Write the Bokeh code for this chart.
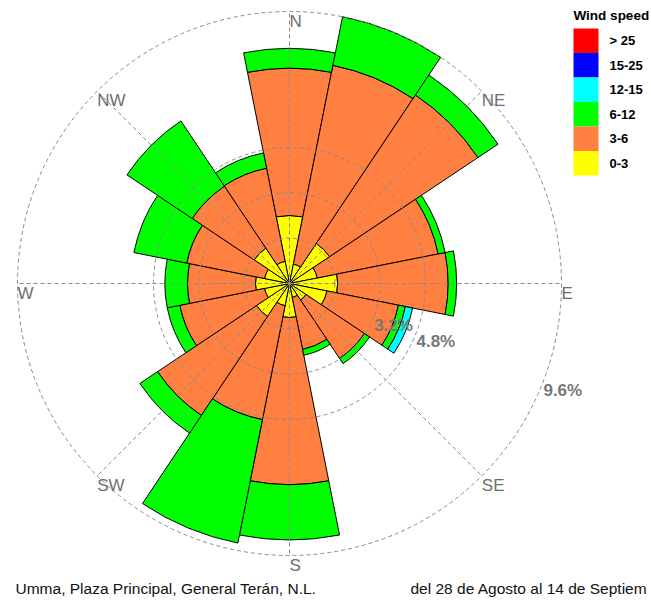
import numpy as np
from bokeh.plotting import figure
from bokeh.models import Range1d, Label, ColumnDataSource
from bokeh.core.properties import value
from bokeh.embed import file_html
from bokeh.resources import INLINE

# ---------------- data ----------------
directions = ["N", "NNE", "NE", "ENE", "E", "ESE", "SE", "SSE",
              "S", "SSW", "SW", "WSW", "W", "WNW", "NW", "NNW"]
direction_deg = [0, 22.5, 45, 67.5, 90, 112.5, 135, 157.5,
                 180, 202.5, 225, 247.5, 270, 292.5, 315, 337.5]

speed_bins = ["0-3", "3-6", "6-12", "12-15", "15-25", "> 25"]
bin_colors = ["#FFFF00", "#FF8040", "#00FF00", "#00FFFF", "#0000FF", "#FF0000"]

# frequency (%) per direction for each wind speed class
freq_0_3 = [2.4, 0.7, 1.7, 1.0, 1.7, 1.35, 0.7, 0.5,
            1.2, 0.8, 1.4, 0.9, 1.2, 0.9, 1.5, 0.8]
freq_3_6 = [5.2, 7.15, 6.3, 4.35, 3.9, 2.57, 2.48, 1.87,
            5.9, 4.1, 4.2, 3.05, 2.4, 2.8, 2.63, 3.35]
freq_6_12 = [0.7, 1.75, 0.85, 0.25, 0.3, 0.25, 0.22, 0.21,
             1.95, 4.44, 0.75, 0.45, 0.8, 1.9, 2.77, 0.55]
freq_12_15 = [0, 0, 0, 0, 0, 0.26, 0, 0,
              0, 0, 0, 0, 0, 0, 0, 0]
freq_15_25 = [0] * 16
freq_25 = [0] * 16

ring_values = [1.6, 3.2, 4.8, 9.6]
ring_label_values = [3.2, 4.8, 9.6]
ring_label_texts = ["3.2%", "4.8%", "9.6%"]
ring_label_deg = 111

compass_labels = ["N", "NE", "E", "SE", "S", "SW", "W", "NW"]
compass_deg = [0, 45, 90, 135, 180, 225, 270, 315]

legend_title = "Wind speed"
station_text = "Umma, Plaza Principal, General Terán, N.L."
period_text = "del 28 de Agosto al 14 de Septiem"

# ---------------- layout ----------------
W, H = 650, 600
CX, CY = 289, 283          # centre of the rose in canvas pixels
R_OUT = max(ring_values)
K = 272 / R_OUT            # pixels per percent


def dx(px):
    return (px - CX) / K


def dy(py):
    return (CY - py) / K


p = figure(width=W, height=H, output_backend="svg", toolbar_location=None,
           x_range=Range1d(dx(0), dx(W)), y_range=Range1d(dy(H), dy(0)),
           min_border=0)
p.axis.visible = False
p.grid.visible = False
p.outline_line_color = None
p.background_fill_color = "white"

theta = np.deg2rad(direction_deg)
half = np.deg2rad(11.25)
start = np.pi / 2 - theta - half
end = np.pi / 2 - theta + half

series = [freq_0_3, freq_3_6, freq_6_12, freq_12_15, freq_15_25, freq_25]
cum = np.zeros(16)
for vals, col in zip(series, bin_colors):
    vals = np.array(vals, dtype=float)
    inner = cum.copy()
    outer = cum + vals
    m = vals > 0
    if m.any():
        src = ColumnDataSource(dict(inner=inner[m], outer=outer[m],
                                    start=start[m], end=end[m]))
        p.annular_wedge(x=0, y=0, inner_radius="inner", outer_radius="outer",
                        start_angle="start", end_angle="end", source=src,
                        fill_color=col, line_color="black", line_width=1)
    cum = outer

# grid: dashed rings and radial lines, drawn over the bars
grid_col = "#8a8a8a"
p.circle(x=[0] * len(ring_values), y=[0] * len(ring_values), radius=ring_values,
         fill_color=None, line_color=grid_col, line_dash="4 3", line_width=1)
cd = np.deg2rad(compass_deg)
p.segment(x0=[0] * 8, y0=[0] * 8, x1=R_OUT * np.sin(cd), y1=R_OUT * np.cos(cd),
          line_color=grid_col, line_dash="4 3", line_width=1)

# direction labels
p.text(x=R_OUT * np.sin(cd), y=R_OUT * np.cos(cd), text=compass_labels,
       text_font=value("Liberation Sans"), text_font_size="17px",
       text_color="#6e6e6e", text_align="left", text_baseline="top")

# ring labels
rl = np.deg2rad(ring_label_deg)
rv = np.array(ring_label_values)
p.text(x=rv * np.sin(rl), y=rv * np.cos(rl), text=ring_label_texts,
       text_font=value("Liberation Sans"), text_font_size="17px",
       text_font_style="bold", text_color="#777777",
       text_align="left", text_baseline="top")

# legend (drawn manually: colour boxes + bold labels)
LEG_X0, LEG_X1, LEG_TOP, LEG_H = 573, 598, 28, 24.5
leg_labels = list(reversed(speed_bins))
leg_colors = list(reversed(bin_colors))
n = len(leg_labels)
tops = np.array([LEG_TOP + i * LEG_H for i in range(n)])
p.quad(left=[dx(LEG_X0)] * n, right=[dx(LEG_X1)] * n,
       top=[dy(t) for t in tops], bottom=[dy(t + LEG_H) for t in tops],
       fill_color=leg_colors, line_color=None)
p.text(x=[dx(609)] * n, y=[dy(t + LEG_H / 2) for t in tops], text=leg_labels,
       text_font=value("Liberation Sans"), text_font_size="13px",
       text_font_style="bold", text_color="black",
       text_align="left", text_baseline="middle")
p.text(x=[dx(LEG_X0)], y=[dy(15)], text=[legend_title],
       text_font=value("Liberation Sans"), text_font_size="13.5px",
       text_font_style="bold", text_color="black",
       text_align="left", text_baseline="middle")

# footer texts
p.add_layout(Label(x=15, y=H - 588, x_units="screen", y_units="screen", text=station_text,
                   text_font="Liberation Sans", text_font_size="15.5px",
                   text_color="#111111", text_baseline="middle"))
p.add_layout(Label(x=410, y=H - 588, x_units="screen", y_units="screen", text=period_text,
                   text_font="Liberation Sans", text_font_size="15.5px",
                   text_color="#111111", text_baseline="middle"))

open("out.html", "w").write(file_html(p, INLINE))
